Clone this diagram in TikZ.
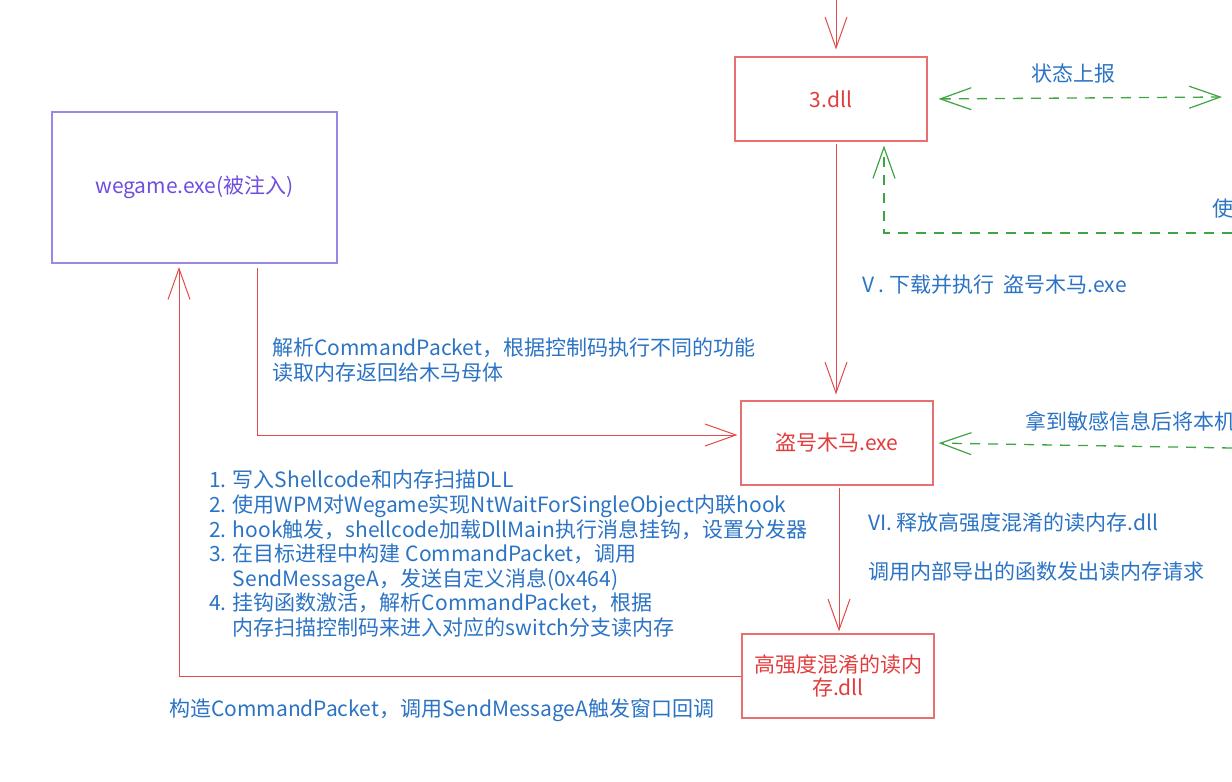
\documentclass[tikz,border=0pt]{standalone}
\usepackage{fontspec}
\setmainfont{Noto Sans CJK SC}
\usetikzlibrary{arrows.meta}
\definecolor{redline}{HTML}{E24A4A}
\definecolor{redbox}{HTML}{E87070}
\definecolor{redtext}{HTML}{E23C3C}
\definecolor{bluetext}{HTML}{2B73C4}
\definecolor{greenline}{HTML}{3DA542}
\definecolor{purpbox}{HTML}{9B87E8}
\definecolor{purptext}{HTML}{6E4DE0}
\tikzset{
  x=1pt, y=-1pt,
  boxred/.style={draw=redbox, line width=1.1pt, minimum width=192pt, minimum height=84pt, text=redtext, font=\fontsize{21}{23.5}\selectfont, align=center, inner sep=0pt},
  boxpurp/.style={draw=purpbox, line width=1.1pt, minimum width=285pt, minimum height=151pt, text=purptext, font=\fontsize{21}{23.5}\selectfont, inner sep=0pt},
  lbl/.style={text=bluetext, font=\fontsize{21}{24.6}\selectfont, anchor=west, inner sep=0pt, align=left},
  redarr/.style={draw=redline, line width=1pt, -{Straight Barb[length=31pt, width=22pt, line width=1pt]}},
  greenarr/.style={draw=greenline, line width=1.3pt, dash pattern=on 10pt off 8pt, -{Straight Barb[length=31pt, width=22pt, line width=1.2pt]}},
  greendbl/.style={draw=greenline, line width=1.3pt, dash pattern=on 10pt off 8pt, {Straight Barb[length=31pt, width=22pt, line width=1.2pt]}-{Straight Barb[length=31pt, width=22pt, line width=1.2pt]}},
}
\begin{document}
\begin{tikzpicture}
\useasboundingbox (0,0) rectangle (1232,782);
% boxes
\node[boxred] (dll3) at (831,99) {3.dll};
\node[boxpurp] (wegame) at (194.5,187.5) {wegame.exe(被注入)};
\node[boxred] (daohao) at (837,443) {盗号木马.exe};
\node[boxred] (gqd) at (838,676) {高强度混淆的读内\\存.dll};
% free coordinates
\coordinate (topin) at (836,0);
\coordinate (gdblR) at (1222,97);
\coordinate (gLR) at (1232,233);
\coordinate (gLC) at (884,233);
\coordinate (gDR) at (1232,448);
\coordinate (wgOut) at (257,268);
\coordinate (wgIn) at (179,267);
% red connectors
\draw[redarr, shorten >=7pt] (topin) -- (topin |- dll3.north);
\draw[redarr, shorten <=2pt, shorten >=6pt] (topin |- dll3.south) -- (topin |- daohao.north);
\draw[redarr, shorten <=2pt, shorten >=2pt] (daohao.south -| 839,0) -- (gqd.north -| 839,0);
\draw[redarr, shorten >=3pt] (wgOut) -- (wgOut |- 0,435) -- (daohao.west |- 0,435);
\draw[redarr] (gqd.west) -- (wgIn |- gqd.west) -- (wgIn);
% green connectors
\draw[greendbl, shorten <=11pt] (dll3.east) -- (gdblR);
\draw[greenarr, shorten >=4pt] (gLR) -- (gLC) -- (gLC |- dll3.south);
\draw[greenarr, shorten >=5pt] (gDR) -- (daohao.east);
% labels
\node[lbl, anchor=center] (lstat) at (1073,73) {状态上报};
\node[lbl] (lshi) at (1212,209) {使};
\node[lbl] (lv) at (862,285) {V . 下载并执行\ \ 盗号木马.exe};
\node[lbl] (lna) at (1025,421) {拿到敏感信息后将本机};
\node[lbl] (lvi) at (868,523) {VI. 释放高强度混淆的读内存.dll};
\node[lbl] (ldiao) at (868,572) {调用内部导出的函数发出读内存请求};
\node[lbl] (ljx) at (272,360) {解析CommandPacket，根据控制码执行不同的功能\\读取内存返回给木马母体};
\node[lbl, anchor=north west] (llist) at (209,470) {1. 写入Shellcode和内存扫描DLL\\
2. 使用WPM对Wegame实现NtWaitForSingleObject内联hook\\
2. hook触发，shellcode加载DllMain执行消息挂钩，设置分发器\\
3. 在目标进程中构建 CommandPacket，调用\\
\hphantom{3. }SendMessageA，发送自定义消息(0x464)\\
4. 挂钩函数激活，解析CommandPacket，根据\\
\hphantom{4. }内存扫描控制码来进入对应的switch分支读内存};
\node[lbl] (lgz) at (169,710) {构造CommandPacket，调用SendMessageA触发窗口回调};
\end{tikzpicture}
\end{document}
